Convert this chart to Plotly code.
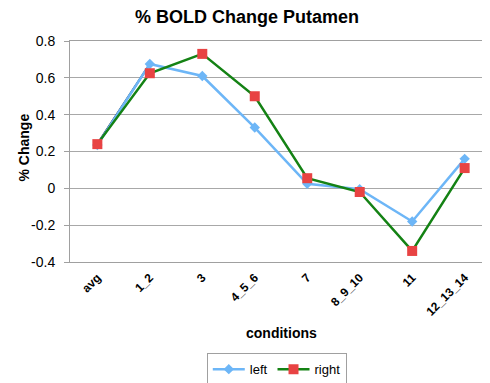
import plotly.graph_objects as go

categories = ["avg", "1_2", "3", "4_5_6", "7", "8_9_10", "11", "12_13_14"]
left = [0.235, 0.675, 0.61, 0.33, 0.025, -0.005, -0.18, 0.16]
right = [0.24, 0.625, 0.73, 0.50, 0.055, -0.02, -0.34, 0.11]
y_tickvals = [-0.4, -0.2, 0, 0.2, 0.4, 0.6, 0.8]
y_ticktext = ["-0.4", "-0.2", "0", "0.2", "0.4", "0.6", "0.8"]

fig = go.Figure()
# black first segment seen in reference (avg -> 1_2 of left series)
fig.add_trace(go.Scatter(
    x=categories[:2], y=[right[0], left[1]], mode="lines", showlegend=False,
    line=dict(color="black", width=2), hoverinfo="skip",
))
fig.add_trace(go.Scatter(
    x=categories, y=left, name="left", mode="lines+markers",
    line=dict(color="#6DB6F7", width=2.5),
    marker=dict(symbol="diamond", size=8, color="#6DB6F7"),
))
fig.add_trace(go.Scatter(
    x=categories, y=right, name="right", mode="lines+markers",
    line=dict(color="#148214", width=2.5),
    marker=dict(symbol="square", size=10, color="#E84343"),
))

fig.update_layout(
    width=490, height=383,
    margin=dict(l=62, r=6, t=33, b=125),
    paper_bgcolor="white", plot_bgcolor="white",
    font=dict(family="Liberation Sans, Arial", color="black"),
    title=dict(text="<b>% BOLD Change Putamen</b>", x=0.488, xanchor="center",
               y=0.995, yanchor="top", font=dict(size=18)),
    showlegend=True,
    legend=dict(orientation="h", x=0.49, xanchor="center", y=-0.485, yanchor="middle",
                bordercolor="#A0A0A0", borderwidth=1, font=dict(size=13),
                itemwidth=32, traceorder="normal"),
    xaxis=dict(
        type="category", tickangle=-45,
        tickfont=dict(size=12, family="Liberation Sans, Arial", weight="bold"),
        showgrid=False, showline=True, linecolor="#A0A0A0", mirror=True,
        ticks="", ticklabelstandoff=3,
    ),
    yaxis=dict(
        range=[-0.4, 0.8], tickvals=y_tickvals, ticktext=y_ticktext,
        showgrid=True, gridcolor="#A8A8A8", gridwidth=1,
        showline=True, linecolor="#A0A0A0", mirror=True,
        zeroline=True, zerolinecolor="#A8A8A8", zerolinewidth=1,
        ticks="outside", ticklen=5, tickcolor="#A0A0A0",
        ticklabelstandoff=6,
        tickfont=dict(size=14),
    ),
    annotations=[
        dict(text="<b>conditions</b>", xref="paper", yref="paper", x=0.5, y=-0.32,
             xanchor="center", yanchor="middle", showarrow=False, font=dict(size=14)),
        dict(text="<b>% Change</b>", xref="paper", yref="paper", x=-0.108, y=0.52,
             xanchor="center", yanchor="middle", textangle=-90, showarrow=False,
             font=dict(size=14)),
    ],
)
fig.write_html("out.html")
